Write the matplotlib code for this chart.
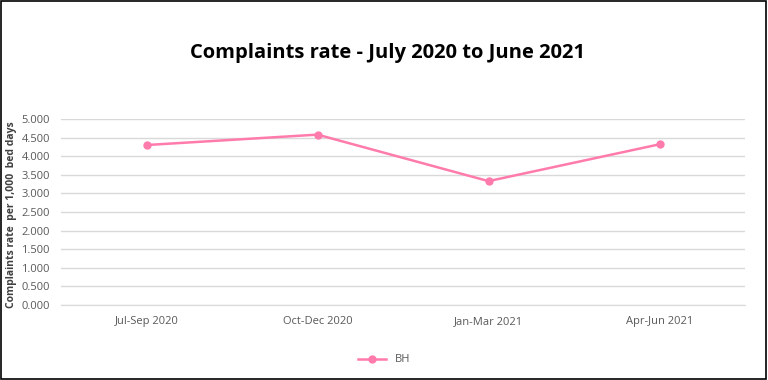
import matplotlib
matplotlib.use("Agg")
import matplotlib.pyplot as plt
from matplotlib.patches import Rectangle

# quarterly complaints rate per 1,000 bed days
quarters = ["Jul-Sep 2020", "Oct-Dec 2020", "Jan-Mar 2021", "Apr-Jun 2021"]
bh_rate = [4.30, 4.58, 3.33, 4.32]
yticks = [0.0, 0.5, 1.0, 1.5, 2.0, 2.5, 3.0, 3.5, 4.0, 4.5, 5.0]

plt.rcParams['font.family'] = ['Open Sans', 'DejaVu Sans']
pink = "#FF7BAC"
grey = "#595959"

fig = plt.figure(figsize=(7.68, 3.8), dpi=100)
ax = fig.add_axes([61 / 768, 1 - 305 / 380, 684 / 768, 186 / 380])

x = list(range(len(quarters)))
ax.plot(x, bh_rate, color=pink, lw=1.8, marker="o", ms=5, label="BH")

ax.set_xlim(-0.5, len(quarters) - 0.5)
ax.set_ylim(0, 5)
ax.set_xticks(x)
ax.set_xticklabels(quarters, fontsize=8, color=grey)
ax.set_yticks(yticks)
ax.set_yticklabels(["%.3f" % v for v in yticks], fontsize=8, color=grey)
ax.tick_params(length=0, pad=8)
ax.grid(axis="y", color="#D9D9D9", lw=1)
ax.set_axisbelow(True)
for s in ax.spines.values():
    s.set_visible(False)
ax.spines["bottom"].set_visible(True)
ax.spines["bottom"].set_color("#D9D9D9")

# y axis title placed by hand so it sits just inside the border
fig.text(12 / 768, 1 - 215 / 380, "Complaints rate  per 1,000  bed days", rotation=90,
         ha="center", va="center", fontsize=7.5, fontweight="bold", color="#404040")

fig.text(0.505, 1 - 53 / 380, "Complaints rate - July 2020 to June 2021",
         ha="center", va="center", fontsize=14.5, fontweight="bold", color="black")

fig.legend(loc="center", bbox_to_anchor=(0.5, 1 - 360 / 380), frameon=False,
           fontsize=8, labelcolor=grey, handlelength=2.5)

# outer chart border
fig.patches.append(Rectangle((0.001, 0.002), 0.997, 0.995, transform=fig.transFigure,
                             fill=False, edgecolor="black", lw=1.2))

fig.savefig("out.png", dpi=100)
